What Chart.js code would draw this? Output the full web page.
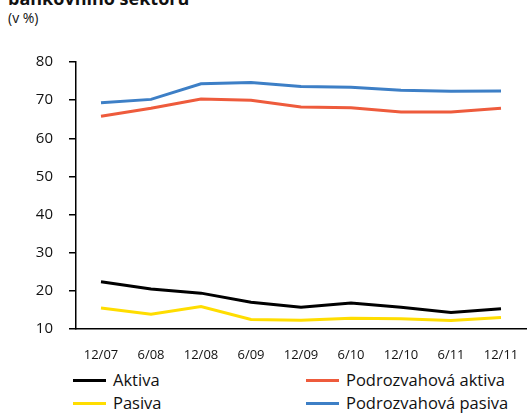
<!DOCTYPE html>
<html>
<head>
<meta charset="utf-8">
<script src="https://cdn.jsdelivr.net/npm/chart.js@4"></script>
<style>
  html, body { margin: 0; padding: 0; background: #fff; }
  body { width: 531px; height: 415px; position: relative; overflow: hidden; font-family: "Open Sans", sans-serif; color: #111; }
  #title { position: absolute; left: 8px; top: -14px; font-size: 18px; font-weight: bold; white-space: nowrap; }
  #sub { position: absolute; left: 8px; top: 8px; font-size: 14px; }
  #wrap { position: absolute; left: 0; top: 0; width: 531px; height: 362px; }
  .leg { position: absolute; font-size: 16.5px; white-space: nowrap; }
  .leg i { display: inline-block; width: 33px; height: 3px; vertical-align: middle; margin-right: 7px; position: relative; top: -1px; }
</style>
</head>
<body>
<div id="title">bankovního sektoru</div>
<div id="sub">(v %)</div>
<div id="wrap"><canvas id="chart"></canvas></div>
<div class="leg" style="left:73px; top:368px;"><i style="background:#000"></i>Aktiva</div>
<div class="leg" style="left:306px; top:368px;"><i style="background:#ee5b3c"></i>Podrozvahová aktiva</div>
<div class="leg" style="left:73px; top:391px;"><i style="background:#ffdd00"></i>Pasiva</div>
<div class="leg" style="left:306px; top:391px;"><i style="background:#3d7fc6"></i>Podrozvahová pasiva</div>
<script>
// Data
const labels = ['12/07', '6/08', '12/08', '6/09', '12/09', '6/10', '12/10', '6/11', '12/11'];
const aktiva = [22.4, 20.5, 19.4, 17.0, 15.7, 16.8, 15.7, 14.3, 15.3];
const pasiva = [15.5, 13.9, 15.9, 12.5, 12.3, 12.8, 12.7, 12.2, 13.0];
const podrozAktiva = [65.8, 67.9, 70.3, 70.0, 68.2, 68.0, 66.9, 66.9, 67.9];
const podrozPasiva = [69.3, 70.2, 74.3, 74.6, 73.6, 73.4, 72.6, 72.3, 72.4];
const yTicks = [10, 20, 30, 40, 50, 60, 70, 80];

function line(label, data, color) {
    return { label, data, borderColor: color, backgroundColor: color, borderWidth: 3, pointRadius: 0, tension: 0, fill: false };
}

new Chart(document.getElementById('chart'), {
    type: 'line',
    data: {
        labels: labels,
        datasets: [
            line('Aktiva', aktiva, '#000000'),
            line('Pasiva', pasiva, '#ffdd00'),
            line('Podrozvahová aktiva', podrozAktiva, '#ee5b3c'),
            line('Podrozvahová pasiva', podrozPasiva, '#3d7fc6')
        ]
    },
    options: {
        responsive: true,
        maintainAspectRatio: false,
        animation: false,
        layout: { padding: { left: 0, right: 5, top: 62, bottom: 0 } },
        plugins: { legend: { display: false }, tooltip: { enabled: false } },
        scales: {
            x: {
                offset: true,
                grid: { display: false },
                border: { display: true, color: '#000', width: 1.5 },
                ticks: { color: '#111', font: { family: 'Open Sans', size: 13 }, padding: 10, maxRotation: 0, autoSkip: false },
                afterFit: s => { s.height = 33; }
            },
            y: {
                min: 10, max: 80,
                afterBuildTicks: s => { s.ticks = yTicks.map(v => ({ value: v })); },
                grid: { drawOnChartArea: false, drawTicks: true, tickLength: 7, color: '#000', lineWidth: 1.5 },
                border: { display: true, color: '#000', width: 1.5 },
                ticks: { color: '#111', font: { family: 'Open Sans', size: 15 }, padding: 16 },
                afterFit: s => { s.width = 76; }
            }
        }
    }
});
</script>
</body>
</html>
